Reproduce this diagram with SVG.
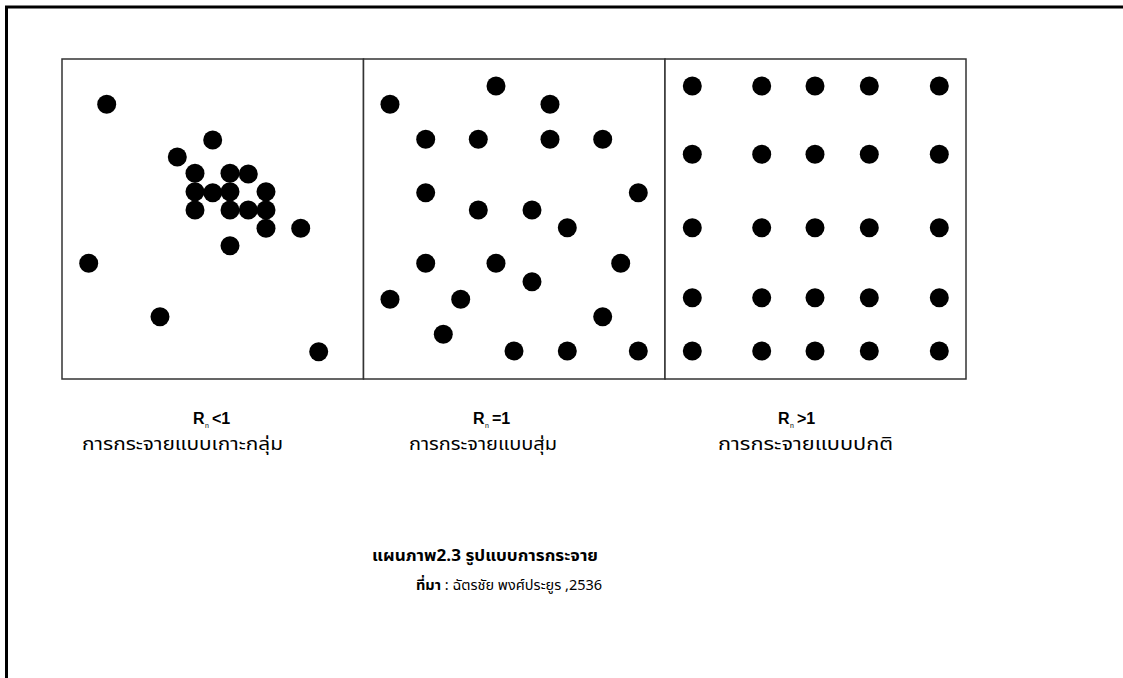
<svg xmlns="http://www.w3.org/2000/svg" width="1123" height="678" viewBox="0 0 1123 678">
<style>
.frame{fill:none;stroke:#000;stroke-width:3}
.panel{fill:#fff;stroke:#333;stroke-width:1.5}
.d{fill:#000}
.r{font-family:"Liberation Sans",Arial,sans-serif;font-weight:bold;font-size:16px;fill:#000}
.sub{font-family:"Liberation Sans",Arial,sans-serif;font-size:7px;fill:#000}
.th{font-family:"Noto Sans Thai","Noto Sans","DejaVu Sans",sans-serif;font-size:18px;fill:#000}
.cap{font-family:"Noto Sans Thai","Noto Sans","DejaVu Sans",sans-serif;font-size:16px;font-weight:bold;fill:#000}
.src{font-family:"Noto Sans Thai","Noto Sans","DejaVu Sans",sans-serif;font-size:14.5px;fill:#000}
</style>
<rect width="1123" height="678" fill="#fff"/>
<rect class="frame" x="6.5" y="7" width="1130" height="690"/>

<g id="panel-clustered">
<rect class="panel" x="62" y="59" width="301.5" height="320"/>
<circle class="d" cx="106.7" cy="104.3" r="9.5"/>
<circle class="d" cx="212.7" cy="140" r="9.5"/>
<circle class="d" cx="177.3" cy="157" r="9.5"/>
<circle class="d" cx="195" cy="173.3" r="9.5"/>
<circle class="d" cx="230" cy="173.3" r="9.5"/>
<circle class="d" cx="248.3" cy="174" r="9.5"/>
<circle class="d" cx="195" cy="191.7" r="9.5"/>
<circle class="d" cx="212.7" cy="192.7" r="9.5"/>
<circle class="d" cx="230" cy="191.7" r="9.5"/>
<circle class="d" cx="266" cy="191.7" r="9.5"/>
<circle class="d" cx="195" cy="210" r="9.5"/>
<circle class="d" cx="230" cy="210" r="9.5"/>
<circle class="d" cx="248.3" cy="210" r="9.5"/>
<circle class="d" cx="266" cy="210" r="9.5"/>
<circle class="d" cx="266" cy="228.3" r="9.5"/>
<circle class="d" cx="300.7" cy="228.3" r="9.5"/>
<circle class="d" cx="230" cy="245.7" r="9.5"/>
<circle class="d" cx="88.7" cy="263.3" r="9.5"/>
<circle class="d" cx="160" cy="316.7" r="9.5"/>
<circle class="d" cx="318.7" cy="351.7" r="9.5"/>
</g>

<g id="panel-random">
<rect class="panel" x="363.5" y="59" width="301.5" height="320"/>
<circle class="d" cx="496" cy="86" r="9.5"/>
<circle class="d" cx="390" cy="104.3" r="9.5"/>
<circle class="d" cx="550" cy="104.3" r="9.5"/>
<circle class="d" cx="425.7" cy="139.3" r="9.5"/>
<circle class="d" cx="478.3" cy="139.3" r="9.5"/>
<circle class="d" cx="550" cy="139.3" r="9.5"/>
<circle class="d" cx="602.7" cy="139.3" r="9.5"/>
<circle class="d" cx="425.7" cy="192.7" r="9.5"/>
<circle class="d" cx="638.3" cy="192.7" r="9.5"/>
<circle class="d" cx="478.3" cy="210" r="9.5"/>
<circle class="d" cx="532" cy="210" r="9.5"/>
<circle class="d" cx="567.3" cy="227.7" r="9.5"/>
<circle class="d" cx="425.7" cy="263.3" r="9.5"/>
<circle class="d" cx="496" cy="263.3" r="9.5"/>
<circle class="d" cx="620.7" cy="263.3" r="9.5"/>
<circle class="d" cx="532" cy="281.7" r="9.5"/>
<circle class="d" cx="390" cy="299.3" r="9.5"/>
<circle class="d" cx="460.7" cy="299.3" r="9.5"/>
<circle class="d" cx="602.7" cy="316.7" r="9.5"/>
<circle class="d" cx="443.3" cy="334.3" r="9.5"/>
<circle class="d" cx="514" cy="351" r="9.5"/>
<circle class="d" cx="567.3" cy="351" r="9.5"/>
<circle class="d" cx="638.3" cy="351" r="9.5"/>
</g>

<g id="panel-uniform">
<rect class="panel" x="665" y="59" width="301" height="320"/>
<g>
<circle class="d" cx="692.3" cy="86" r="9.5"/><circle class="d" cx="761.7" cy="86" r="9.5"/><circle class="d" cx="815" cy="86" r="9.5"/><circle class="d" cx="869.3" cy="86" r="9.5"/><circle class="d" cx="939.3" cy="86" r="9.5"/>
<circle class="d" cx="692.3" cy="154.3" r="9.5"/><circle class="d" cx="761.7" cy="154.3" r="9.5"/><circle class="d" cx="815" cy="154.3" r="9.5"/><circle class="d" cx="869.3" cy="154.3" r="9.5"/><circle class="d" cx="939.3" cy="154.3" r="9.5"/>
<circle class="d" cx="692.3" cy="227.7" r="9.5"/><circle class="d" cx="761.7" cy="227.7" r="9.5"/><circle class="d" cx="815" cy="227.7" r="9.5"/><circle class="d" cx="869.3" cy="227.7" r="9.5"/><circle class="d" cx="939.3" cy="227.7" r="9.5"/>
<circle class="d" cx="692.3" cy="297.7" r="9.5"/><circle class="d" cx="761.7" cy="297.7" r="9.5"/><circle class="d" cx="815" cy="297.7" r="9.5"/><circle class="d" cx="869.3" cy="297.7" r="9.5"/><circle class="d" cx="939.3" cy="297.7" r="9.5"/>
<circle class="d" cx="692.3" cy="351" r="9.5"/><circle class="d" cx="761.7" cy="351" r="9.5"/><circle class="d" cx="815" cy="351" r="9.5"/><circle class="d" cx="869.3" cy="351" r="9.5"/><circle class="d" cx="939.3" cy="351" r="9.5"/>
</g>
</g>

<g id="label-clustered">
<text class="r" x="193" y="424">R</text><text class="sub" x="205" y="428">n</text><text class="r" x="212" y="424">&lt;1</text>
<text class="th" x="82" y="450" textLength="201" lengthAdjust="spacingAndGlyphs">การกระจายแบบเกาะกลุ่ม</text>
</g>
<g id="label-random">
<text class="r" x="473" y="424">R</text><text class="sub" x="485" y="428">n</text><text class="r" x="492" y="424">=1</text>
<text class="th" x="409" y="450" textLength="148" lengthAdjust="spacingAndGlyphs">การกระจายแบบสุ่ม</text>
</g>
<g id="label-uniform">
<text class="r" x="778" y="424">R</text><text class="sub" x="790" y="428">n</text><text class="r" x="797" y="424">&gt;1</text>
<text class="th" x="718" y="450" textLength="175" lengthAdjust="spacingAndGlyphs">การกระจายแบบปกติ</text>
</g>

<g id="caption">
<text class="cap" x="372" y="561" textLength="226" lengthAdjust="spacingAndGlyphs">แผนภาพ2.3 รูปแบบการกระจาย</text>
<text class="src" x="416" y="590"><tspan font-weight="bold">ที่มา</tspan> : ฉัตรชัย พงศ์ประยูร ,2536</text>
</g>
</svg>
